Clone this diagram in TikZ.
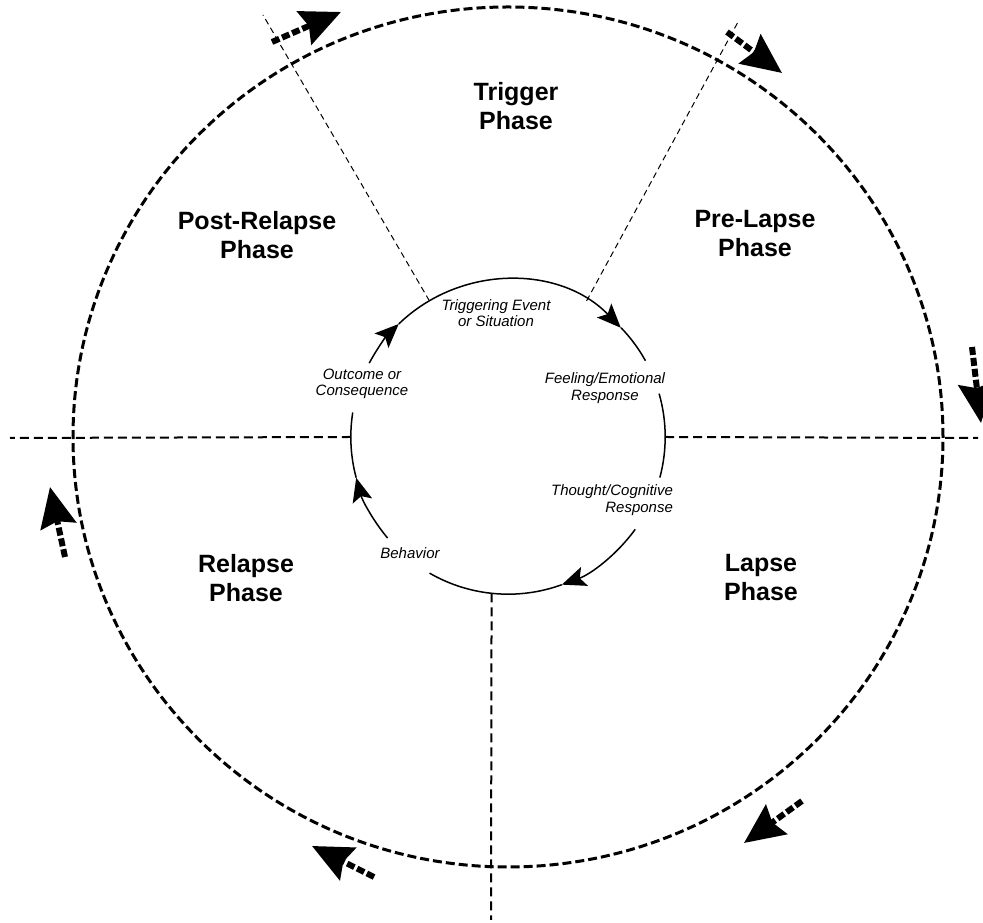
\documentclass[tikz,border=0pt]{standalone}
\usepackage{fontspec}
\setmainfont{Liberation Sans}
\usetikzlibrary{arrows.meta,positioning}

\begin{document}
\begin{tikzpicture}[x=1pt,y=1pt,
	phase/.style={font=\fontsize{25}{29}\selectfont\bfseries, align=center},
	stage/.style={font=\fontsize{15}{16.5}\selectfont\itshape, align=center},
	rim/.style={line width=3pt, dash pattern=on 9pt off 4pt},
	ring/.style={line width=1.5pt},
	ringtip/.style={line width=1.5pt, -{Stealth[length=24pt,width=20pt,inset=5pt]}},
	spoke/.style={line width=1pt, dash pattern=on 6pt off 4pt},
	divider/.style={line width=2pt, dash pattern=on 9pt off 5pt},
	phaseflow/.style={line width=6pt, dash pattern=on 8pt off 3pt, -{Stealth[length=40pt,width=36pt,inset=5pt]}}]
	\useasboundingbox (0,0) rectangle (983,923);
	
	\coordinate (C) at (508,486);
	\node[circle, inner sep=0pt, minimum size=314pt] (hub) at (C) {};
	
	\draw[rim] (C) ellipse [x radius=435, y radius=430];
	
	\coordinate (nw) at (263,908);
	\coordinate (ne) at (738,901);
	\coordinate (w) at (10,485);
	\coordinate (e) at (978,485);
	\coordinate (s) at (491,3);
	
	\draw[spoke] (hub.120) -- (nw);
	\draw[spoke] (hub.60) -- (ne);
	\draw[divider] (hub.180) -- (w);
	\draw[divider] (hub.0) -- (e);
	\draw[divider] (hub.264) -- (s);
	
	\draw[ringtip] (hub.152) arc (152:134:157);
	\draw[ringtip] (hub.134) arc (134:44:157);
	\draw[ring] (hub.44) arc (44:29:157);
	\draw[ring] (hub.16) arc (16:-15:157);
	\draw[ringtip] (hub.-36) arc (-36:-70:157);
	\draw[ring] (hub.-70) arc (-70:-120:157);
	\draw[ringtip] (hub.220) arc (220:195:157);
	\draw[ring] (hub.195) arc (195:171:157);
	
	\node[stage] (trig) at (496,610) {Triggering Event\\or Situation};
	\node[stage] (feel) at (605,535) {Feeling/Emotional\\Response};
	\node[stage, align=right] (thought) at (612,423) {Thought/Cognitive\\Response};
	\node[stage] (behav) at (410,370) {Behavior};
	\node[stage] (outc) at (362,539) {Outcome or\\Consequence};
	
	\node[phase] (trigger) at (516,817) {Trigger\\Phase};
	\node[phase] (prelapse) at (755,689) {Pre-Lapse\\Phase};
	\node[phase] (lapse) at (761,345) {Lapse\\Phase};
	\node[phase] (relapse) at (246,345) {Relapse\\Phase};
	\node[phase] (postrelapse) at (257,688) {Post-Relapse\\Phase};
	
	\coordinate (t1) at (272,881);
	\coordinate (h1) at (341,911);
	\coordinate (t2) at (727,891);
	\coordinate (h2) at (782,850);
	\coordinate (t3) at (972,576);
	\coordinate (h3) at (981,500);
	\coordinate (t4) at (802,122);
	\coordinate (h4) at (744,80);
	\coordinate (t5) at (374,46);
	\coordinate (h5) at (312,77);
	\coordinate (t6) at (65,366);
	\coordinate (h6) at (50,436);
	
	\draw[phaseflow] (t1) -- (h1);
	\draw[phaseflow] (t2) -- (h2);
	\draw[phaseflow] (t3) -- (h3);
	\draw[phaseflow] (t4) -- (h4);
	\draw[phaseflow] (t5) -- (h5);
	\draw[phaseflow] (t6) -- (h6);
\end{tikzpicture}
\end{document}
